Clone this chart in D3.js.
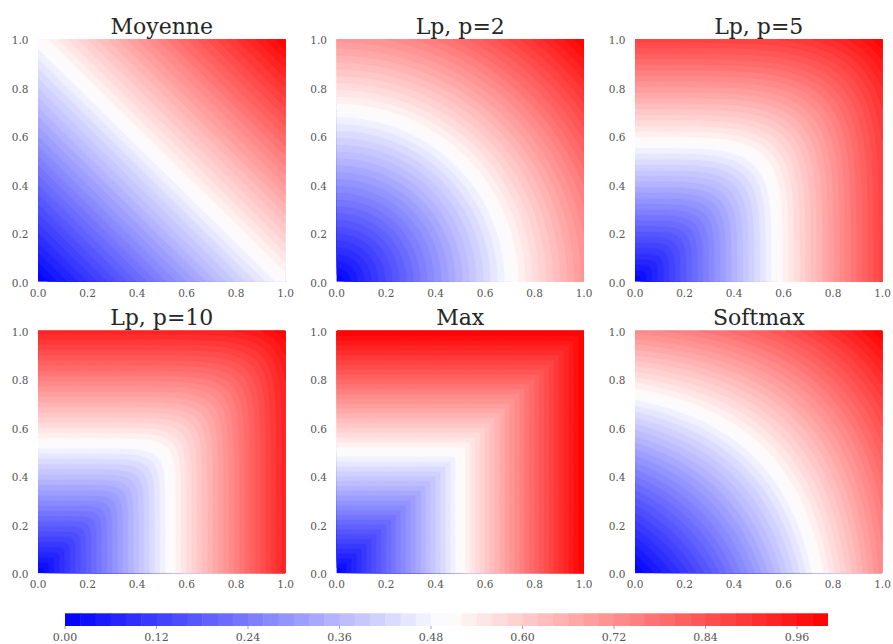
<!DOCTYPE html>
<html>
<head>
<meta charset="utf-8">
<script src="https://cdn.jsdelivr.net/npm/d3@7"></script>
<style>
  html, body { margin: 0; padding: 0; background: #fff; }
  svg { display: block; }
  text { font-family: "DejaVu Serif", serif; }
</style>
</head>
<body>
<svg id="chart" width="893" height="644"></svg>
<script>
// ---- data ----
const panelTitles = ["Moyenne", "Lp, p=2", "Lp, p=5", "Lp, p=10", "Max", "Softmax"];
const panelKinds  = ["mean", "lp", "lp", "lp", "max", "softmax"];
const panelP      = [1, 2, 5, 10, null, null];
const axisTicks   = [0.0, 0.2, 0.4, 0.6, 0.8, 1.0];
const levelStep   = 0.02;
const levelMin    = 0.0;
const levelMax    = 1.0;
const cbarTicks   = [0.00, 0.12, 0.24, 0.36, 0.48, 0.60, 0.72, 0.84, 0.96];

// aggregation functions drawn in each panel
const aggregators = {
  mean: (x, y) => (x + y) / 2,
  lp: (x, y, p) => Math.pow((Math.pow(x, p) + Math.pow(y, p)) / 2, 1 / p),
  max: (x, y) => Math.max(x, y),
  softmax: (x, y) => (x * Math.exp(x) + y * Math.exp(y)) / (Math.exp(x) + Math.exp(y))
};

// ---- layout ----
const svg = d3.select("#chart");
const colLeft = [38, 336.5, 635];
const rowTop = [39.3, 330.7];
const pw = 247.5, ph = 242.5;
const gridN = 240;

const levels = d3.range(0, Math.round((levelMax - levelMin) / levelStep) + 1)
  .map(i => +(levelMin + i * levelStep).toFixed(4));

// bwr colormap
function bwr(t) {
  t = Math.max(0, Math.min(1, t));
  let r, g, b;
  if (t < 0.5) { r = g = 2 * t; b = 1; }
  else { r = 1; g = b = 2 * (1 - t); }
  return d3.rgb(r * 255, g * 255, b * 255).toString();
}
const colorNorm = d3.scaleLinear().domain([levelMin, levelMax]).range([0, 1]);
const bandColor = i => bwr(colorNorm((levels[i] + levels[i + 1]) / 2));

const tickFmt = d3.format(".1f");

panelTitles.forEach((title, k) => {
  const col = k % 3, row = Math.floor(k / 3);
  const x0 = colLeft[col], y0 = rowTop[row];
  const g = svg.append("g").attr("transform", `translate(${x0},${y0})`);

  const xs = d3.scaleLinear().domain([0, 1]).range([0, pw]);
  const ys = d3.scaleLinear().domain([0, 1]).range([ph, 0]);

  const f = aggregators[panelKinds[k]];
  const p = panelP[k];
  const values = new Float64Array(gridN * gridN);
  for (let j = 0; j < gridN; j++) {
    const yv = 1 - (j + 0.5) / gridN;
    for (let i = 0; i < gridN; i++) {
      const xv = (i + 0.5) / gridN;
      values[j * gridN + i] = f(xv, yv, p);
    }
  }
  const thresholds = levels.slice(0, -1);
  const contours = d3.contours().size([gridN, gridN]).thresholds(thresholds)(values);

  const gx = d3.scaleLinear().domain([0, gridN]).range([0, pw]);
  const gy = d3.scaleLinear().domain([0, gridN]).range([0, ph]);
  const proj = d3.geoTransform({
    point: function (px, py) { this.stream.point(gx(px), gy(py)); }
  });
  const path = d3.geoPath(proj);

  const clipId = "clip" + k;
  g.append("clipPath").attr("id", clipId)
    .append("rect").attr("width", pw).attr("height", ph);

  g.append("g").attr("clip-path", `url(#${clipId})`)
    .selectAll("path").data(contours).join("path")
    .attr("d", path)
    .attr("fill", (d, i) => bandColor(i))
    .attr("stroke", (d, i) => bandColor(i))
    .attr("stroke-width", 0.4);

  // x tick labels
  g.append("g").selectAll("text").data(axisTicks).join("text")
    .attr("x", d => xs(d)).attr("y", ph + 15)
    .attr("text-anchor", "middle")
    .attr("font-size", 10.5).attr("fill", "#555")
    .text(tickFmt);

  // y tick labels
  g.append("g").selectAll("text").data(axisTicks).join("text")
    .attr("x", -9.5).attr("y", d => ys(d) + 5)
    .attr("text-anchor", "end")
    .attr("font-size", 10.5).attr("fill", "#555")
    .text(tickFmt);

  // title
  g.append("text")
    .attr("x", pw / 2).attr("y", -5.5)
    .attr("text-anchor", "middle")
    .attr("font-size", 22).attr("fill", "#262626")
    .text(title);
});

// ---- colorbar ----
const cbX0 = 65, cbX1 = 827.5, cbY = 613.3, cbH = 12.7;
const cbScale = d3.scaleLinear().domain([levelMin, levelMax]).range([cbX0, cbX1]);
const cb = svg.append("g");
cb.selectAll("rect").data(d3.range(levels.length - 1)).join("rect")
  .attr("x", i => cbScale(levels[i]))
  .attr("width", i => cbScale(levels[i + 1]) - cbScale(levels[i]) + 0.5)
  .attr("y", cbY).attr("height", cbH)
  .attr("fill", i => bandColor(i));

const cbFmt = d3.format(".2f");
cb.selectAll("line").data(cbarTicks).join("line")
  .attr("x1", d => cbScale(d)).attr("x2", d => cbScale(d))
  .attr("y1", cbY + cbH).attr("y2", cbY + cbH + 3)
  .attr("stroke", "#888").attr("stroke-width", 0.8);
cb.selectAll("text").data(cbarTicks).join("text")
  .attr("x", d => cbScale(d)).attr("y", 641.3)
  .attr("text-anchor", "middle")
  .attr("font-size", 11).attr("fill", "#555")
  .text(cbFmt);
</script>
</body>
</html>
